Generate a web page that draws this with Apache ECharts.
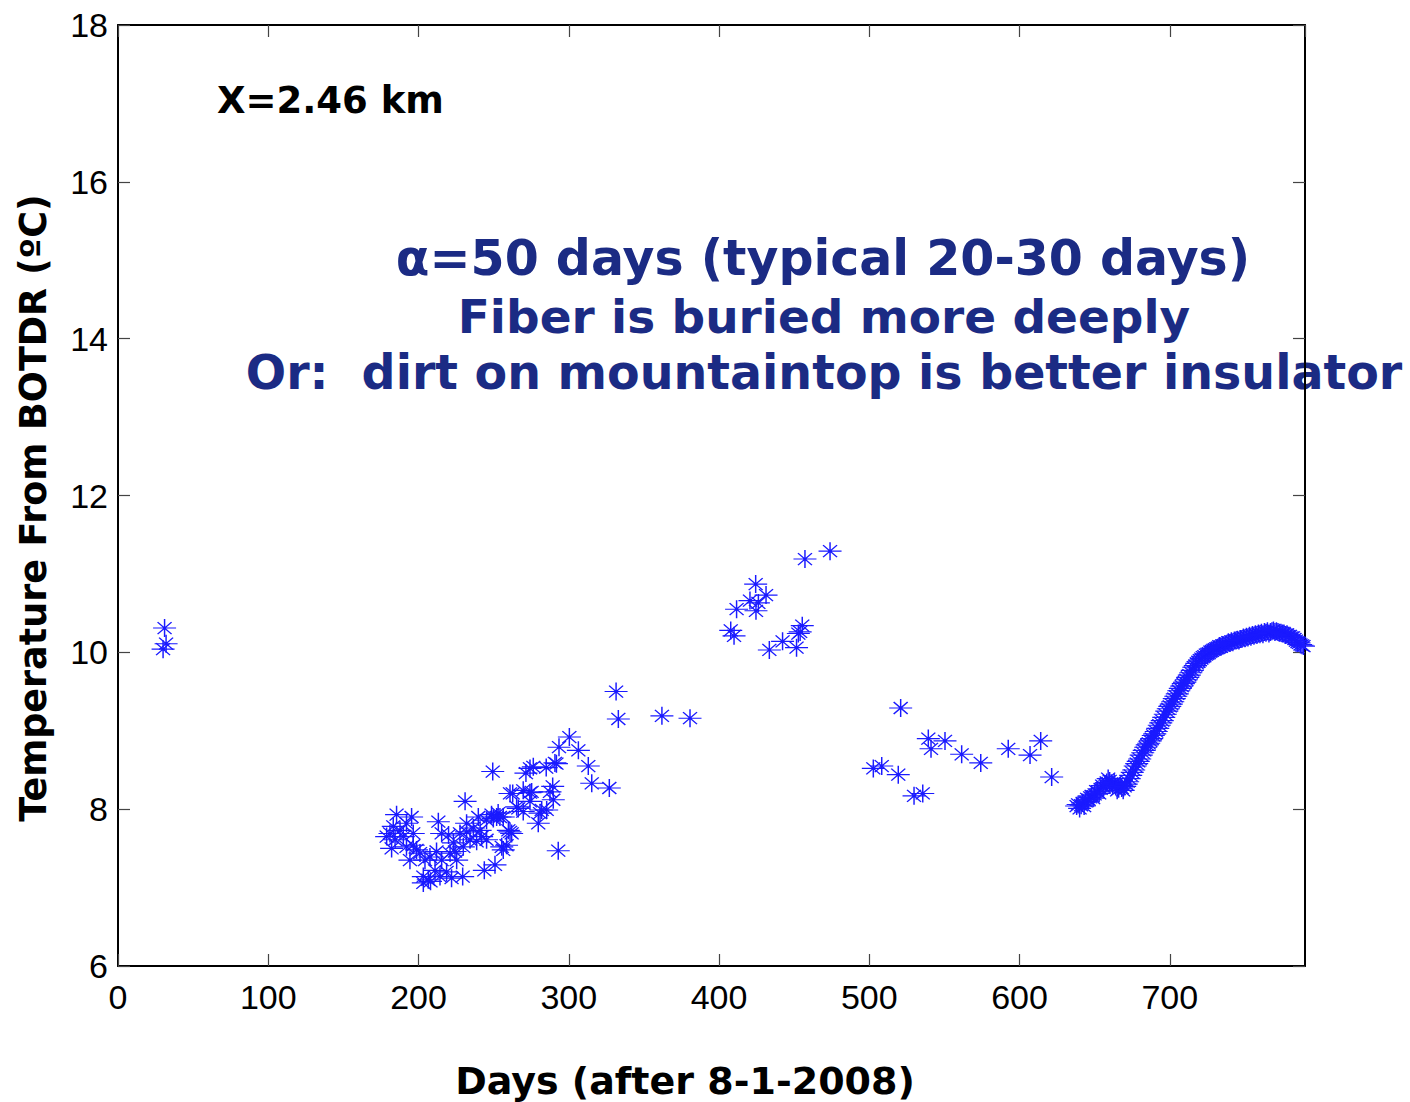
<!DOCTYPE html>
<html>
<head>
<meta charset="utf-8">
<script src="https://cdn.jsdelivr.net/npm/echarts@6/dist/echarts.min.js"></script>
<style>
  html, body { margin: 0; padding: 0; background: #fff; }
  #chart { width: 1410px; height: 1102px; }
</style>
</head>
<body>
<div id="chart"></div>
<script>
// BOTDR temperature readings at X = 2.46 km, days after 8-1-2008

// Scattered early readings (days, °C)
const sparseDays = [
  31, 32, 30,
  178.8, 181, 182.1, 183.2, 184.4, 185.4, 187.7, 189.9, 192, 192, 194.3, 195.4, 196.5, 196.5,
  198.7, 201, 203.2, 203.2, 204.3, 206.5, 207.6, 208, 211, 212, 213.2, 214.3, 215.4, 215.4,
  218.7, 220, 221, 222, 223.2, 224.3, 225.4, 227.6, 229.4, 229.8, 231, 232, 232, 234.3, 236.5,
  238.7, 239.8, 241, 242, 243.8, 245.3, 245.3, 248.6, 249.4, 249.8, 250.9, 252, 253, 254.2,
  255.4, 256.4, 256.4, 258.6, 259.8, 260.9, 260.9, 262, 262.7, 265.3, 266.4, 269.7, 269.7,
  271.5, 274.2, 274.2, 274.2, 275.3, 276.4, 279.7, 280.9, 282, 285, 285.3, 287.5, 289.3,
  289.7, 290.8, 291.8, 293, 293.5, 300.4, 306.4, 313, 315.3, 327, 331.5, 333, 362, 380.7,
  407.8, 410, 411.7, 420.6, 424.4, 424.6, 426.2, 431.3, 433.5, 442.3, 451.6, 452.8, 454,
  455.4, 457.2, 473.9,
  502.7, 508.3, 519.3, 520.9, 529.8, 535.6, 539.3, 541.1, 550.4, 561.5, 574.2, 592.5, 607,
  614.1, 621.4
];
const sparseTemps = [
  10.31, 10.11, 10.04,
  7.65, 7.69, 7.50, 7.78, 7.61, 7.93, 7.73, 7.65, 7.82, 7.52, 7.35, 7.90, 7.54, 7.69,
  7.48, 7.44, 7.14, 7.06, 7.35, 7.10, 7.39, 7.08, 7.22, 7.46, 7.84, 7.14, 7.69, 7.35,
  7.20, 7.67, 7.44, 7.12, 7.57, 7.46, 7.35, 7.69, 7.14, 7.52, 8.10, 7.71, 7.82, 7.61, 7.76,
  7.59, 7.90, 7.73, 7.65, 7.22, 7.61, 7.86, 7.93, 8.48, 7.88, 7.29, 7.90, 7.95, 7.90,
  7.52, 7.90, 7.48, 7.54, 7.73, 7.71, 8.20, 7.69, 8.20, 8.03, 8.01, 7.97, 8.24,
  8.46, 8.21, 8.52, 8.10, 8.22, 8.54, 7.82, 7.95, 7.99, 8.53, 7.99, 8.22, 8.29,
  8.12, 8.59, 8.58, 7.47, 8.79, 8.92, 8.75, 8.55, 8.33, 8.27, 9.50, 9.15, 9.19, 9.16,
  10.28, 10.21, 10.55, 10.66, 10.87, 10.53, 10.63, 10.73, 10.03, 10.14, 10.06, 10.24, 10.26,
  10.34, 11.19, 11.29,
  8.52, 8.55, 8.44, 9.29, 8.17, 8.20, 8.90, 8.77, 8.87, 8.70, 8.59, 8.77, 8.69,
  8.87, 8.41
];

// Daily record from day 638 onward
const curveStartDay = 638;
const curveTemps = [
  8.04, 8.06, 8.01, 8.05, 8.08, 8.04, 8.10, 8.13, 8.12, 8.15, 8.17, 8.14, 8.19, 8.23, 8.22, 8.20,
  8.26, 8.30, 8.28, 8.32, 8.34, 8.39, 8.36, 8.33, 8.31, 8.34, 8.29, 8.24, 8.26, 8.30, 8.27, 8.24,
  8.29, 8.32, 8.35, 8.39, 8.43, 8.47, 8.50, 8.55, 8.58, 8.61, 8.64, 8.69, 8.72, 8.75, 8.79, 8.82,
  8.84, 8.87, 8.90, 8.94, 8.96, 8.99, 9.03, 9.07, 9.10, 9.13, 9.17, 9.21, 9.25, 9.28, 9.31, 9.34,
  9.37, 9.41, 9.44, 9.47, 9.51, 9.54, 9.57, 9.60, 9.62, 9.65, 9.68, 9.71, 9.74, 9.77, 9.81, 9.83,
  9.86, 9.88, 9.90, 9.92, 9.94, 9.95, 9.97, 9.98, 9.99, 10.01, 10.02, 10.03, 10.04, 10.05, 10.06, 10.08,
  10.07, 10.09, 10.09, 10.10, 10.11, 10.13, 10.12, 10.14, 10.13, 10.15, 10.15, 10.16, 10.15, 10.17, 10.17, 10.19,
  10.18, 10.20, 10.19, 10.21, 10.20, 10.22, 10.21, 10.23, 10.22, 10.24, 10.23, 10.25, 10.23, 10.26, 10.25, 10.27,
  10.24, 10.26, 10.27, 10.28, 10.26, 10.27, 10.26, 10.25, 10.25, 10.24, 10.24, 10.22, 10.23, 10.21, 10.21, 10.19,
  10.19, 10.17, 10.15, 10.13, 10.12, 10.10, 10.09, 10.08
];

const xTicks = { min: 0, max: 790, step: 100 };
const yTicks = { min: 6, max: 18, step: 2 };

const annotationLines = [
  'α=50 days (typical 20-30 days)',
  'Fiber is buried more deeply',
  'Or:  dirt on mountaintop is better insulator'
];

const points = sparseDays.map((d, i) => [d, sparseTemps[i]])
  .concat(curveTemps.map((t, i) => [curveStartDay + i, t]));

// eight-armed asterisk marker
const asterisk = 'path://M0,-9L0,9M-11.5,0L11.5,0M-7,-6L7,6M-7,6L7,-6';

const tickFont = "'Liberation Sans', Arial, sans-serif";
const boldFont = "'DejaVu Sans', Verdana, sans-serif";

const GRID = { left: 118, right: 105, top: 25, bottom: 136 };

const axisCommon = {
  type: 'value',
  splitLine: { show: false },
  axisLine: { show: true, onZero: false, lineStyle: { color: '#000', width: 2 } },
  axisTick: { show: true, inside: true, length: 12, lineStyle: { color: '#444', width: 1.2 } }
};

const chart = echarts.init(document.getElementById('chart'), null, { renderer: 'svg' });

chart.setOption({
  animation: false,
  backgroundColor: '#fff',
  grid: GRID,
  xAxis: [
    Object.assign({}, axisCommon, {
      position: 'bottom',
      min: xTicks.min, max: xTicks.max, interval: xTicks.step,
      axisLabel: {
        show: true, margin: 14, color: '#000',
        fontFamily: tickFont, fontSize: 34,
        showMaxLabel: false
      }
    }),
    Object.assign({}, axisCommon, {
      position: 'top',
      min: xTicks.min, max: xTicks.max, interval: xTicks.step,
      axisLabel: { show: false }
    })
  ],
  yAxis: [
    Object.assign({}, axisCommon, {
      position: 'left',
      min: yTicks.min, max: yTicks.max, interval: yTicks.step,
      axisLabel: {
        show: true, margin: 10, color: '#000',
        fontFamily: tickFont, fontSize: 34
      }
    }),
    Object.assign({}, axisCommon, {
      position: 'right',
      min: yTicks.min, max: yTicks.max, interval: yTicks.step,
      axisLabel: { show: false }
    })
  ],
  series: [{
    type: 'scatter',
    xAxisIndex: 0,
    yAxisIndex: 0,
    data: points,
    symbol: asterisk,
    symbolSize: [23, 18],
    itemStyle: {
      color: 'rgba(0,0,0,0)',
      borderColor: '#1a1aff',
      borderWidth: 1.3,
      opacity: 1
    },
    emphasis: { disabled: true }
  }],
  graphic: [
    {
      type: 'text', x: 217, y: 100,
      style: {
        text: 'X=2.46 km', fill: '#000',
        font: 'bold 37px ' + boldFont,
        textAlign: 'left', textVerticalAlign: 'middle'
      }
    },
    {
      type: 'text', x: 823, y: 258,
      style: {
        text: annotationLines[0], fill: '#1b2b84',
        font: 'bold 49px ' + boldFont,
        textAlign: 'center', textVerticalAlign: 'middle'
      }
    },
    {
      type: 'text', x: 824, y: 316,
      style: {
        text: annotationLines[1], fill: '#1b2b84',
        font: 'bold 47px ' + boldFont,
        textAlign: 'center', textVerticalAlign: 'middle'
      }
    },
    {
      type: 'text', x: 824, y: 372,
      style: {
        text: annotationLines[2], fill: '#1b2b84',
        font: 'bold 47.5px ' + boldFont,
        textAlign: 'center', textVerticalAlign: 'middle'
      }
    },
    {
      type: 'text', x: 685, y: 1081,
      style: {
        text: 'Days (after 8-1-2008)', fill: '#000',
        font: 'bold 38px ' + boldFont,
        textAlign: 'center', textVerticalAlign: 'middle'
      }
    },
    {
      type: 'text', x: 33, y: 508, rotation: Math.PI / 2,
      style: {
        text: 'Temperature From BOTDR (ºC)', fill: '#000',
        font: 'bold 36.5px ' + boldFont,
        textAlign: 'center', textVerticalAlign: 'middle'
      }
    }
  ]
});
</script>
</body>
</html>
